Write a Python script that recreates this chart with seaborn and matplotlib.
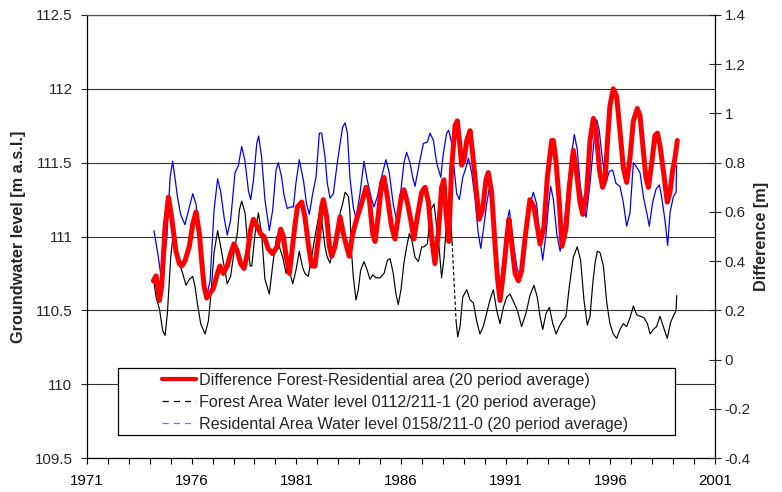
import numpy as np
import pandas as pd
import matplotlib
matplotlib.use("Agg")
import matplotlib.pyplot as plt
from matplotlib.lines import Line2D
from matplotlib.patches import Rectangle
import seaborn as sns

# ---------------- data ----------------
resid_years = [
    1974.20, 1974.41, 1974.57, 1974.81, 1974.97, 1975.09, 1975.20, 1975.32, 1975.47, 1975.68, 1975.89,
    1976.05, 1976.21, 1976.37, 1976.56, 1976.69, 1976.88, 1977.07, 1977.24, 1977.39, 1977.55, 1977.70, 1977.86,
    1978.07, 1978.23, 1978.39, 1978.55, 1978.71, 1978.82, 1978.95, 1979.11, 1979.20, 1979.34, 1979.50, 1979.71, 1979.87,
    1980.03, 1980.14, 1980.30, 1980.41, 1980.57, 1980.73, 1980.86, 1980.98, 1981.14,
    1981.34, 1981.49, 1981.62, 1981.78, 1981.94, 1982.10, 1982.21, 1982.37, 1982.48, 1982.61, 1982.77, 1982.93,
    1983.09, 1983.21, 1983.33, 1983.44, 1983.56, 1983.72, 1983.85, 1984.04, 1984.23, 1984.39, 1984.60, 1984.71, 1984.87,
    1985.03, 1985.28, 1985.44, 1985.63, 1985.79, 1985.98, 1986.14, 1986.27, 1986.43, 1986.56, 1986.67, 1986.88,
    1987.07, 1987.26, 1987.39, 1987.55, 1987.70, 1987.90,
    1988.02, 1988.18, 1988.28, 1988.42, 1988.53, 1988.66, 1988.79, 1988.95, 1989.11, 1989.22, 1989.38, 1989.54, 1989.69,
    1989.81, 1989.96, 1990.09, 1990.22, 1990.38, 1990.54, 1990.73, 1990.92, 1991.08, 1991.18, 1991.33, 1991.56, 1991.76,
    1991.97, 1992.13, 1992.32, 1992.48, 1992.64, 1992.77, 1992.93, 1993.04, 1993.15, 1993.28, 1993.44, 1993.60, 1993.79,
    1993.99, 1994.15, 1994.28, 1994.42, 1994.55, 1994.71, 1994.84, 1995.03,
    1995.16, 1995.27, 1995.35, 1995.47, 1995.59, 1995.70, 1995.82, 1995.95, 1996.11, 1996.27, 1996.46, 1996.62, 1996.78,
    1996.94, 1997.10, 1997.26, 1997.42, 1997.58, 1997.74, 1997.86, 1998.02, 1998.18, 1998.34, 1998.45, 1998.61, 1998.74,
    1998.85, 1999.01, 1999.14, 1999.17,
]
resid_level = [
    111.04, 110.86, 110.69, 110.98, 111.40, 111.51, 111.40, 111.27, 111.15, 111.08, 111.20,
    111.29, 111.22, 110.98, 110.73, 110.58, 110.70, 111.18, 111.39, 111.30, 111.13, 111.01, 111.11,
    111.43, 111.48, 111.61, 111.51, 111.31, 111.25, 111.38, 111.63, 111.68, 111.54, 111.25, 111.04, 111.18,
    111.45, 111.50, 111.40, 111.28, 111.19, 111.20, 111.20, 111.36, 111.52,
    111.38, 111.22, 111.15, 111.29, 111.40, 111.70, 111.70, 111.54, 111.36, 111.26, 111.29, 111.47,
    111.63, 111.74, 111.77, 111.70, 111.40, 111.20, 111.12, 111.29, 111.51, 111.38, 111.25, 111.20, 111.27,
    111.38, 111.52, 111.43, 111.22, 111.11, 111.29, 111.50, 111.57, 111.50, 111.40, 111.34, 111.50,
    111.63, 111.64, 111.70, 111.65, 111.50, 111.40,
    111.56, 111.70, 111.72, 111.63, 111.47, 111.29, 111.25, 111.40, 111.47, 111.53, 111.43, 111.25, 111.02,
    110.92, 111.07, 111.22, 111.33, 111.16, 110.91, 110.65, 110.89, 111.11, 111.18, 110.98, 110.77, 110.73,
    110.95, 111.20, 111.30, 111.22, 110.98, 110.84, 111.02, 111.20, 111.34, 111.25, 111.02, 110.90, 111.07,
    111.36, 111.56, 111.69, 111.59, 111.36, 111.20, 111.13, 111.36,
    111.56, 111.72, 111.79, 111.72, 111.56, 111.45, 111.38, 111.44, 111.45, 111.36, 111.34, 111.23, 111.07,
    111.16, 111.50, 111.47, 111.43, 111.27, 111.16, 111.07, 111.23, 111.32, 111.35, 111.27, 111.11, 110.94,
    111.16, 111.27, 111.30, 111.48,
]

# forest well: record before and after the gap in 1988
forest_years_a = [
    1974.17, 1974.30, 1974.46, 1974.62, 1974.73, 1974.84,
    1975.00, 1975.16, 1975.28, 1975.41, 1975.57, 1975.73, 1975.89,
    1976.05, 1976.16, 1976.27, 1976.43, 1976.64, 1976.80, 1976.91,
    1977.07, 1977.24, 1977.39, 1977.51, 1977.59, 1977.70, 1977.86,
    1978.02, 1978.18, 1978.28, 1978.39, 1978.55, 1978.66, 1978.79, 1978.87,
    1979.03, 1979.19, 1979.34, 1979.50, 1979.71, 1979.90,
    1980.06, 1980.19, 1980.35, 1980.51, 1980.59, 1980.70, 1980.83, 1980.98,
    1981.14, 1981.30, 1981.41, 1981.57, 1981.73, 1981.89,
    1982.10, 1982.21, 1982.37, 1982.48, 1982.61, 1982.77, 1982.93,
    1983.09, 1983.21, 1983.33, 1983.49, 1983.56, 1983.64, 1983.72, 1983.85, 1983.96,
    1984.07, 1984.23, 1984.39, 1984.52, 1984.65, 1984.81,
    1985.00, 1985.19, 1985.35, 1985.48, 1985.63, 1985.76, 1985.87,
    1986.00, 1986.14, 1986.27, 1986.40, 1986.51, 1986.67, 1986.83, 1986.99,
    1987.10, 1987.26, 1987.42, 1987.58, 1987.70, 1987.83, 1987.94,
    1988.05, 1988.18, 1988.27, 1988.37, 1988.44,
]
forest_level_a = [
    110.72, 110.59, 110.51, 110.36, 110.33, 110.48,
    110.86, 111.07, 110.93, 110.82, 110.75, 110.67, 110.71,
    110.73, 110.66, 110.55, 110.41, 110.34, 110.43, 110.59,
    110.89, 111.04, 110.93, 110.83, 110.77, 110.68, 110.73,
    110.89, 111.02, 111.18, 111.24, 111.16, 110.98, 110.80, 110.80,
    111.02, 111.16, 111.02, 110.71, 110.61, 110.84,
    111.00, 110.93, 110.86, 110.75, 110.82, 110.75, 110.68, 110.77,
    110.90, 110.79, 110.75, 110.73, 110.86, 111.00,
    111.16, 111.11, 110.93, 110.86, 110.82, 110.93, 111.02,
    111.16, 111.22, 111.30, 111.27, 111.16, 110.89, 110.73, 110.57, 110.64,
    110.77, 110.83, 110.77, 110.71, 110.74, 110.72,
    110.72, 110.75, 110.84, 110.85, 110.75, 110.61, 110.54,
    110.64, 110.82, 110.93, 111.02, 110.98, 110.86, 110.83, 110.93,
    110.93, 110.95, 111.18, 111.22, 111.07, 110.91, 110.72,
    110.85, 111.10, 111.23, 111.11, 110.96,
]
forest_years_b = [
    1988.63, 1988.71, 1988.82, 1988.95, 1989.14, 1989.30, 1989.46, 1989.61, 1989.77, 1989.93,
    1990.09, 1990.25, 1990.41, 1990.57, 1990.73, 1990.89, 1991.05, 1991.21, 1991.37, 1991.56, 1991.76, 1991.97,
    1992.16, 1992.35, 1992.51, 1992.64, 1992.77, 1992.93, 1993.09, 1993.25, 1993.41, 1993.56, 1993.72, 1993.88,
    1994.04, 1994.23, 1994.42, 1994.58, 1994.74, 1994.90, 1995.03, 1995.16, 1995.27, 1995.38, 1995.51, 1995.67,
    1995.83, 1995.98, 1996.14, 1996.30, 1996.46, 1996.62, 1996.78, 1996.94, 1997.10, 1997.26, 1997.42, 1997.61,
    1997.77, 1997.90, 1998.05, 1998.21, 1998.37, 1998.53, 1998.72, 1998.88, 1999.04, 1999.14, 1999.17,
]
forest_level_b = [
    110.43, 110.32, 110.39, 110.59, 110.64, 110.57, 110.55, 110.43, 110.34, 110.39,
    110.48, 110.57, 110.64, 110.50, 110.41, 110.52, 110.59, 110.61, 110.56, 110.50, 110.39, 110.48,
    110.60, 110.67, 110.59, 110.46, 110.37, 110.48, 110.52, 110.41, 110.34, 110.39, 110.43, 110.46,
    110.66, 110.86, 110.93, 110.84, 110.57, 110.40, 110.46, 110.68, 110.82, 110.90, 110.89, 110.80,
    110.55, 110.41, 110.34, 110.31, 110.37, 110.41, 110.39, 110.45, 110.53, 110.47, 110.46, 110.45,
    110.41, 110.34, 110.37, 110.39, 110.46, 110.39, 110.31, 110.42, 110.47, 110.50, 110.60,
]

diff_years = [
    1974.17, 1974.30, 1974.46, 1974.57, 1974.73, 1974.89,
    1975.04, 1975.16, 1975.25, 1975.41, 1975.52, 1975.68, 1975.89,
    1976.05, 1976.21, 1976.37, 1976.48, 1976.59, 1976.72, 1976.88,
    1977.04, 1977.23, 1977.35, 1977.51, 1977.70, 1977.86,
    1978.02, 1978.18, 1978.34, 1978.50, 1978.66, 1978.82, 1978.95,
    1979.14, 1979.30, 1979.46, 1979.66, 1979.87,
    1980.09, 1980.25, 1980.38, 1980.51, 1980.67, 1980.78, 1980.94,
    1981.05, 1981.26, 1981.41, 1981.57, 1981.73, 1981.89, 1982.05, 1982.21, 1982.29, 1982.45, 1982.58, 1982.69,
    1982.85, 1983.01, 1983.09, 1983.25, 1983.40, 1983.53, 1983.69, 1983.88, 1984.07, 1984.33, 1984.49, 1984.65,
    1984.76, 1984.92, 1985.08, 1985.19, 1985.35, 1985.55, 1985.71, 1985.87, 1986.03, 1986.14, 1986.30, 1986.46,
    1986.62, 1986.78, 1986.99, 1987.15, 1987.31, 1987.47, 1987.62, 1987.78, 1987.94, 1988.05, 1988.14, 1988.28,
    1988.42, 1988.58, 1988.69, 1988.79, 1988.90, 1989.01, 1989.14, 1989.30, 1989.42, 1989.58, 1989.74, 1989.90,
    1990.06, 1990.17, 1990.33, 1990.49, 1990.60, 1990.73, 1990.89, 1991.05, 1991.16, 1991.29, 1991.45, 1991.61,
    1991.76, 1991.92, 1992.16, 1992.35, 1992.51, 1992.64, 1992.83, 1992.99, 1993.20, 1993.28, 1993.40, 1993.56,
    1993.69, 1993.88, 1994.04, 1994.23, 1994.39, 1994.55, 1994.68, 1994.87, 1995.03, 1995.19, 1995.32, 1995.48,
    1995.63, 1995.75, 1995.86, 1995.98, 1996.14, 1996.30, 1996.46, 1996.62, 1996.78, 1996.94, 1997.10, 1997.29,
    1997.42, 1997.54, 1997.70, 1997.82, 1997.98, 1998.13, 1998.25, 1998.37, 1998.53, 1998.72, 1998.85, 1998.98,
    1999.09, 1999.20,
]
diff_value = [
    0.32, 0.34, 0.24, 0.30, 0.54, 0.66,
    0.58, 0.50, 0.44, 0.39, 0.38, 0.40, 0.46,
    0.55, 0.60, 0.51, 0.40, 0.30, 0.25, 0.27,
    0.29, 0.35, 0.38, 0.35, 0.38, 0.43,
    0.47, 0.44, 0.39, 0.37, 0.43, 0.53, 0.57,
    0.54, 0.51, 0.50, 0.45, 0.43,
    0.46, 0.53, 0.50, 0.42, 0.35, 0.43, 0.55,
    0.62, 0.64, 0.58, 0.47, 0.38, 0.38, 0.49, 0.62, 0.65, 0.58, 0.46, 0.42,
    0.46, 0.54, 0.58, 0.51, 0.46, 0.42, 0.51, 0.57, 0.62, 0.70, 0.65, 0.51,
    0.48, 0.59, 0.72, 0.74, 0.66, 0.54, 0.49, 0.58, 0.67, 0.69, 0.64, 0.57,
    0.49, 0.58, 0.68, 0.70, 0.64, 0.49, 0.39, 0.51, 0.70, 0.73, 0.61, 0.48,
    0.78, 0.95, 0.97, 0.89, 0.79, 0.81, 0.89, 0.93, 0.84, 0.70, 0.57, 0.61,
    0.73, 0.76, 0.68, 0.47, 0.34, 0.24, 0.35, 0.49, 0.57, 0.47, 0.35, 0.32,
    0.36, 0.49, 0.65, 0.62, 0.54, 0.47, 0.54, 0.74, 0.89, 0.89, 0.81, 0.64,
    0.46, 0.53, 0.70, 0.85, 0.76, 0.64, 0.59, 0.68, 0.89, 0.98, 0.93, 0.77,
    0.70, 0.73, 0.88, 1.03, 1.10, 1.07, 0.93, 0.78, 0.72, 0.82, 0.97, 1.02,
    0.99, 0.88, 0.74, 0.70, 0.80, 0.91, 0.92, 0.87, 0.77, 0.64, 0.68, 0.77,
    0.82, 0.89,
]

labels = [
    "Difference Forest-Residential area (20 period average)",
    "Forest Area Water level 0112/211-1 (20 period average)",
    "Residental Area Water level 0158/211-0 (20 period average)",
]
x_ticks = [1971, 1976, 1981, 1986, 1991, 1996, 2001]
left_ticks = [109.5, 110, 110.5, 111, 111.5, 112, 112.5]
right_ticks = [-0.4, -0.2, 0, 0.2, 0.4, 0.6, 0.8, 1, 1.2, 1.4]

# ---------------- styling ----------------
sns.set_theme(style="white")
plt.rcParams["font.family"] = ["Liberation Sans", "DejaVu Sans"]
plt.rcParams["axes.linewidth"] = 0.9

W, H = 782, 492
fig = plt.figure(figsize=(W / 100, H / 100), dpi=100)
x0, x1, ytop, ybot = 87, 715, 15, 458
ax = fig.add_axes([x0 / W, (H - ybot) / H, (x1 - x0) / W, (ybot - ytop) / H])
ax2 = ax.twinx()

RED = "#FF0000"
BLUE = "#0000FF"
BLACK = "#000000"

res_df = pd.DataFrame({"year": resid_years, "level": resid_level})
fa_df = pd.DataFrame({"year": forest_years_a, "level": forest_level_a})
fb_df = pd.DataFrame({"year": forest_years_b, "level": forest_level_b})
diff_df = pd.DataFrame({"year": diff_years, "diff": diff_value})

sns.lineplot(data=res_df, x="year", y="level", ax=ax, color=BLUE, lw=0.9,
             sort=False, estimator=None, legend=False)
sns.lineplot(data=fa_df, x="year", y="level", ax=ax, color=BLACK, lw=0.85,
             sort=False, estimator=None, legend=False)
sns.lineplot(data=fb_df, x="year", y="level", ax=ax, color=BLACK, lw=0.85,
             sort=False, estimator=None, legend=False)
# dashed link across the missing record
ax.plot([forest_years_a[-1], forest_years_b[0]], [forest_level_a[-1], forest_level_b[0]],
        color=BLACK, lw=0.85, ls=(0, (3, 2)))
sns.lineplot(data=diff_df, x="year", y="diff", ax=ax2, color=RED, lw=3.6,
             sort=False, estimator=None, legend=False)

ax.set_xlim(1971, 2001)
ax.set_ylim(109.5, 112.5)
ax2.set_ylim(-0.4, 1.4)

ax.set_xticks(x_ticks)
ax.set_xticklabels([str(t) for t in x_ticks])
ax.set_xticks(np.arange(1971, 2002, 1), minor=True)
ax.set_yticks(left_ticks)
ax.set_yticklabels([f"{t:g}" for t in left_ticks])
ax2.set_yticks(right_ticks)
ax2.set_yticklabels([f"{t:g}" for t in right_ticks])

TICK_FS = 10.9
ax.tick_params(axis="x", which="both", direction="out", length=4, width=0.8,
               labelsize=TICK_FS, pad=7.5, bottom=True, colors="black")
ax.tick_params(axis="y", direction="out", length=4, width=0.8, labelsize=TICK_FS, pad=6.5, left=True)
ax2.tick_params(axis="y", direction="inout", length=8, width=0.8, labelsize=TICK_FS, pad=3, right=True)

ax.set_xlabel("")
ax.set_ylabel("Groundwater level [m a.s.l.]", fontsize=11.7, fontweight="bold", labelpad=6)
ax2.set_ylabel("Difference [m]", fontsize=11.7, fontweight="bold", labelpad=2)

ax.yaxis.grid(True, color="#333333", lw=0.8)
ax.set_axisbelow(True)
for sp in ["left", "bottom"]:
    ax.spines[sp].set_color("black")
ax.spines["top"].set_color("#555555")
ax.spines["right"].set_visible(False)
ax2.spines["right"].set_color("black")
ax2.spines["top"].set_visible(False)
ax2.spines["left"].set_visible(False)
ax2.spines["bottom"].set_visible(False)

# legend box
bx0, bx1, by0, by1 = 117.5, 675, 368, 435
def fx(px):
    return (px - x0) / (x1 - x0)
def fy(py):
    return (ybot - py) / (ybot - ytop)
rect = Rectangle((fx(bx0), fy(by1)), fx(bx1) - fx(bx0), fy(by0) - fy(by1),
                 transform=ax2.transAxes, facecolor="white", edgecolor="black",
                 lw=0.9, zorder=5)
ax2.add_patch(rect)
handles = [
    Line2D([], [], color=RED, lw=3.0),
    Line2D([], [], color=BLACK, lw=0.9, ls=(0, (5, 4))),
    Line2D([], [], color="#7070FF", lw=0.9, ls=(0, (5, 4))),
]
leg = ax2.legend(handles, labels, loc="upper left", bbox_to_anchor=(fx(162), fy(372.5)),
                 frameon=False, fontsize=11.6, handlelength=2.1, handletextpad=0.2,
                 labelspacing=0.45, borderpad=0, borderaxespad=0)
leg.set_zorder(6)

fig.savefig("out.png", dpi=100)
